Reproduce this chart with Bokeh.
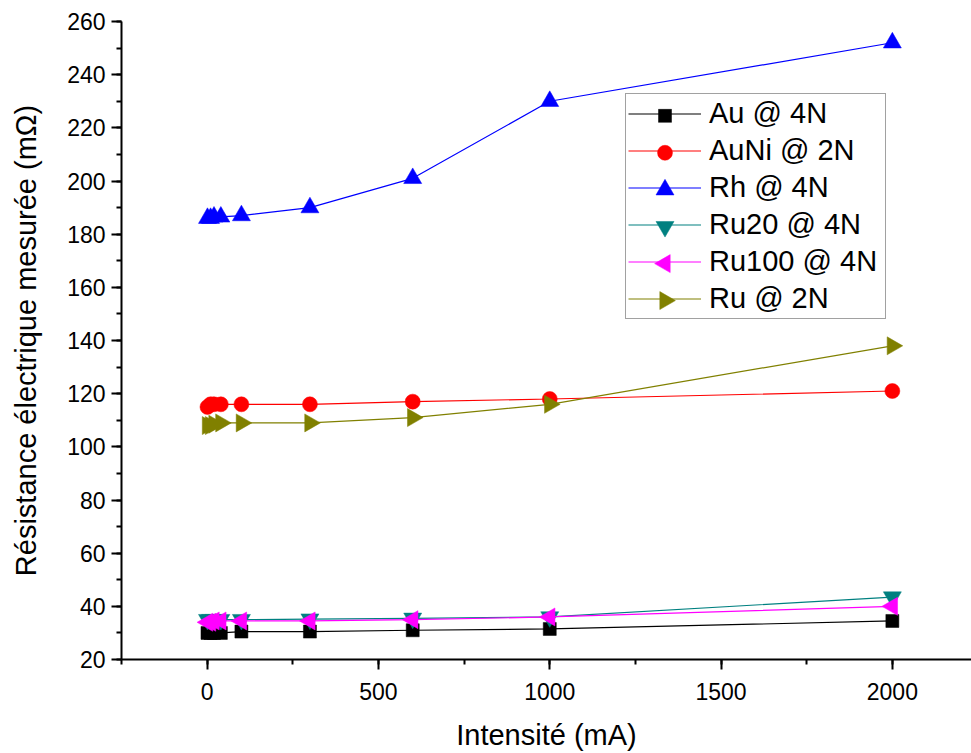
from bokeh.plotting import figure
from bokeh.models import SingleIntervalTicker, Legend, LegendItem
from bokeh.embed import file_html
from bokeh.resources import INLINE

# Data
intensite = [1, 10, 20, 40, 100, 300, 600, 1000, 2000]
au_4n = [30, 30, 30, 30, 30.5, 30.5, 31, 31.5, 34.5]
auni_2n = [115, 116, 116, 116, 116, 116, 117, 118, 121]
rh_4n = [186, 186, 186.5, 186.5, 187, 190, 201, 230, 252]
ru20_4n = [35, 35, 35, 35, 35, 35.2, 35.5, 36, 43.5]
ru100_4n = [34, 34, 34.5, 34.5, 34.5, 34.5, 35, 36, 40]
ru_2n = [108, 108, 108.5, 109, 109, 109, 111, 116, 138]

series_names = ["Au @ 4N", "AuNi @ 2N", "Rh @ 4N", "Ru20 @ 4N", "Ru100 @ 4N", "Ru @ 2N"]
series_values = [au_4n, auni_2n, rh_4n, ru20_4n, ru100_4n, ru_2n]
series_colors = ["#000000", "#FF0000", "#0000FF", "#008080", "#FF00FF", "#808000"]
series_markers = ["square", "circle", "triangle", "inverted_triangle", "triangle", "triangle"]
series_angles = [0, 0, 0, 0, 1.5707963, -1.5707963]
series_sizes = [13, 15, 18, 18, 18, 18]

FONT = "Liberation Sans"

# layout (pixels)
W, H = 971, 753
B_LEFT, B_RIGHT, B_TOP, B_BOTTOM = 121, 0, 21, 93
X0, X1 = -250, 2231
Y0, Y1 = 20, 260

p = figure(width=W, height=H, x_range=(X0, X1), y_range=(Y0, Y1),
           output_backend="svg", toolbar_location=None,
           min_border_left=B_LEFT, min_border_right=B_RIGHT,
           min_border_top=B_TOP, min_border_bottom=B_BOTTOM)
p.xgrid.visible = False
p.ygrid.visible = False
p.outline_line_color = None
p.background_fill_color = "white"
p.border_fill_color = "white"

p.xaxis.ticker = SingleIntervalTicker(interval=500, num_minor_ticks=2)
p.yaxis.ticker = SingleIntervalTicker(interval=20, num_minor_ticks=2)

for ax in (p.xaxis, p.yaxis):
    ax.axis_line_width = 2
    ax.axis_line_color = "black"
    ax.major_tick_line_width = 2
    ax.minor_tick_line_width = 2
    ax.major_tick_line_color = "black"
    ax.minor_tick_line_color = "black"
    ax.major_tick_in = 0
    ax.minor_tick_in = 0
    ax.major_tick_out = 10
    ax.minor_tick_out = 5
    ax.major_label_text_font = FONT
    ax.major_label_text_font_size = "23px"
    ax.major_label_text_color = "black"
    ax.axis_label_text_font = FONT
    ax.axis_label_text_font_size = "29px"
    ax.axis_label_text_font_style = "normal"
    ax.axis_label_text_color = "black"

p.xaxis.axis_label = "Intensité (mA)"
p.yaxis.axis_label = "Résistance électrique mesurée (mΩ)"
p.xaxis.major_label_standoff = 13
p.xaxis.axis_label_standoff = 16
p.yaxis.major_label_standoff = 6
p.yaxis.axis_label_standoff = 22

# legend geometry (screen px)
LEG_X, LEG_Y = 504, 340          # box bottom-left relative to frame bottom-left
PAD, ROW_H, SPACING, GLYPH_W = 2, 35, 2, 73
n_items = len(series_names)
leg_h = 2 * PAD + n_items * ROW_H + (n_items - 1) * SPACING

frame_w = W - B_LEFT - B_RIGHT
frame_h = H - B_TOP - B_BOTTOM
kx = frame_w / (X1 - X0)
ky = frame_h / (Y1 - Y0)
leg_marker_x = X0 + (LEG_X + PAD + GLYPH_W / 2 + 1) / kx
leg_top_from_bottom = LEG_Y + leg_h

items = []
for i, (name, vals, col, mk, ang, sz) in enumerate(zip(series_names, series_values, series_colors,
                                                       series_markers, series_angles, series_sizes)):
    ln = p.line(intensite, vals, line_color=col, line_width=1.2)
    p.scatter(intensite, vals, marker=mk, angle=ang, size=sz,
              fill_color=col, line_color=col, line_width=0.5)
    items.append(LegendItem(label=name, renderers=[ln]))
    # marker drawn at the centre of the legend glyph line
    row_center = leg_top_from_bottom - PAD - i * (ROW_H + SPACING) - ROW_H / 2
    p.scatter([leg_marker_x], [Y0 + row_center / ky], marker=mk, angle=ang, size=sz,
              fill_color=col, line_color=col, line_width=0.5)

legend = Legend(items=items, location=(LEG_X, LEG_Y))
legend.label_text_font = FONT
legend.label_text_font_size = "29px"
legend.label_text_color = "black"
legend.glyph_width = GLYPH_W
legend.glyph_height = ROW_H
legend.label_height = ROW_H
legend.label_width = 174
legend.spacing = SPACING
legend.padding = PAD
legend.margin = 0
legend.label_standoff = 8
legend.border_line_color = "#444444"
legend.border_line_width = 1.5
legend.background_fill_alpha = 0
p.add_layout(legend, "center")

open("out.html", "w").write(file_html(p, INLINE))
